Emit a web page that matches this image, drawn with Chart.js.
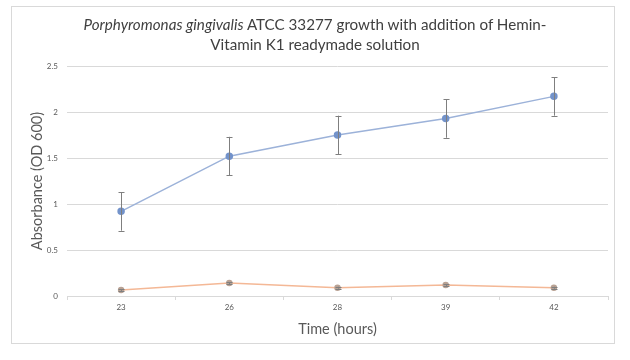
<!DOCTYPE html>
<html>
<head>
<meta charset="utf-8">
<script src="https://cdn.jsdelivr.net/npm/chart.js@4"></script>
<style>
  html, body { margin: 0; padding: 0; background: #fff; }
  #wrap { position: relative; width: 630px; height: 360px; }
  #frame { position: absolute; left: 11px; top: 6px; width: 602px; height: 336px; border: 1px solid #d9d9d9; pointer-events: none; }
  #title { position: absolute; left: 0; top: 14px; width: 630px; text-align: center; font-family: Lato, "Open Sans", sans-serif; font-size: 15.2px; line-height: 20px; color: #404040; }
</style>
</head>
<body>
<div id="wrap">
  <canvas id="grafica" width="630" height="360"></canvas>
  <div id="frame"></div>
  <div id="title"><i>Porphyromonas gingivalis</i> ATCC 33277 growth with addition of Hemin-<br>Vitamin K1 readymade solution</div>
</div>
<script>
const horas = ['23', '26', '28', '39', '42'];
const conHemina = [0.92, 1.52, 1.75, 1.93, 2.17];
const errHemina = [0.21, 0.21, 0.21, 0.21, 0.21];
const control = [0.065, 0.14, 0.09, 0.12, 0.09];
const errControl = [0.01, 0.01, 0.01, 0.01, 0.01];
const yTicks = [0, 0.5, 1, 1.5, 2, 2.5];

const errores = [errHemina, errControl];

// barras de error dibujadas con la escala y
const barrasError = {
    id: 'barrasError',
    afterDatasetsDraw(chart) {
        const ctx = chart.ctx;
        const y = chart.scales.y;
        ctx.save();
        ctx.strokeStyle = '#7f7f7f';
        ctx.lineWidth = 1;
        chart.data.datasets.forEach((ds, i) => {
            const meta = chart.getDatasetMeta(i);
            meta.data.forEach((pt, j) => {
                const v = ds.data[j];
                const e = errores[i][j];
                const top = y.getPixelForValue(v + e);
                const bot = y.getPixelForValue(v - e);
                const x = Math.round(pt.x) + 0.5;
                ctx.beginPath();
                ctx.moveTo(x, top);
                ctx.lineTo(x, bot);
                ctx.moveTo(x - 3, Math.round(top) + 0.5);
                ctx.lineTo(x + 3, Math.round(top) + 0.5);
                ctx.moveTo(x - 3, Math.round(bot) + 0.5);
                ctx.lineTo(x + 3, Math.round(bot) + 0.5);
                ctx.stroke();
            });
        });
        ctx.restore();
    }
};

new Chart(document.getElementById('grafica').getContext('2d'), {
    type: 'line',
    data: {
        labels: horas,
        datasets: [{
            label: 'Hemin-Vitamin K1',
            data: conHemina,
            borderColor: '#9cb2d9',
            backgroundColor: '#7393cb',
            pointBackgroundColor: '#7393cb',
            pointBorderColor: '#7393cb',
            pointRadius: 3,
            borderWidth: 1.5,
            tension: 0
        }, {
            label: 'Control',
            data: control,
            borderColor: '#f4b896',
            backgroundColor: '#b9a294',
            pointBackgroundColor: '#b9a294',
            pointBorderColor: '#b9a294',
            pointRadius: 2.5,
            borderWidth: 1.5,
            tension: 0
        }]
    },
    options: {
        responsive: false,
        animation: false,
        layout: {
            padding: { left: 29, right: 22, top: 66, bottom: 22 }
        },
        plugins: {
            legend: { display: false },
            tooltip: { enabled: false }
        },
        scales: {
            x: {
                offset: true,
                grid: {
                    offset: true,
                    drawOnChartArea: false,
                    color: '#d9d9d9',
                    tickLength: 4
                },
                border: { color: '#d9d9d9' },
                ticks: {
                    color: '#595959',
                    font: { family: 'Lato, sans-serif', size: 8 },
                    padding: 3,
                    maxRotation: 0
                },
                title: {
                    display: true,
                    text: 'Time (hours)',
                    color: '#595959',
                    font: { family: 'Lato, sans-serif', size: 14.5 },
                    padding: 0
                },
                afterFit(scale) { scale.height = 42; }
            },
            y: {
                min: 0,
                max: 2.5,
                afterBuildTicks(scale) { scale.ticks = yTicks.map(v => ({ value: v })); },
                grid: {
                    color: '#d9d9d9',
                    drawTicks: false
                },
                border: { display: false },
                ticks: {
                    color: '#595959',
                    font: { family: 'Lato, sans-serif', size: 8 },
                    padding: 9,
                    callback: v => String(v)
                },
                title: {
                    display: true,
                    text: 'Absorbance (OD 600)',
                    color: '#595959',
                    font: { family: 'Lato, sans-serif', size: 14.5 },
                    padding: 0
                },
                afterFit(scale) { scale.width = 38; }
            }
        }
    },
    plugins: [barrasError]
});
</script>
</body>
</html>
